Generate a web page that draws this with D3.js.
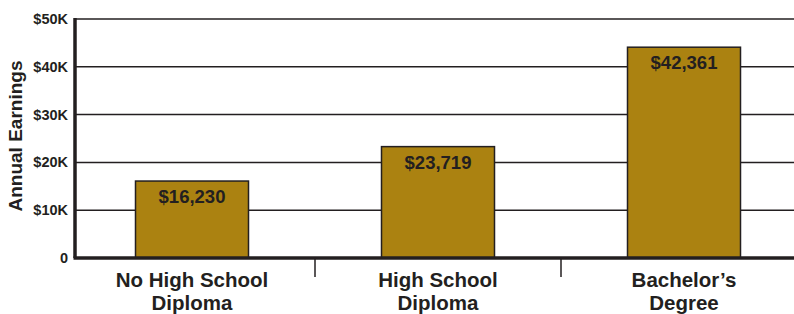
<!DOCTYPE html>
<html>
<head>
<meta charset="utf-8">
<script src="https://cdn.jsdelivr.net/npm/d3@7/dist/d3.min.js"></script>
<style>
  html, body { margin: 0; padding: 0; background: #fff; }
  svg { display: block; font-family: "Liberation Sans", Arial, sans-serif; }
</style>
</head>
<body>
<svg id="chart" width="794" height="314"></svg>
<script>
// categories (two lines each) + printed values + bar heights as drawn in the picture
const categories = ['No High School|Diploma', 'High School|Diploma', 'Bachelor’s|Degree'];
const valueLabels = ['$16,230', '$23,719', '$42,361'];
const barHeights = [16100, 23300, 44100];
const yTicks = [0, 10000, 20000, 30000, 40000, 50000];
const yTickLabels = ['0', '$10K', '$20K', '$30K', '$40K', '$50K'];

const W = 794, H = 314;
const INK = '#231f20', GOLD = '#ab8211';
const svg = d3.select('#chart');

const y = d3.scaleLinear().domain([0, 50000]).range([258, 19]);
const x = d3.scalePoint().domain(categories).range([192, 684]);
const barW = 113;
const axisX = 75;

// gridlines (behind bars)
svg.append('g').selectAll('line').data(yTicks.slice(1)).join('line')
  .attr('x1', axisX).attr('x2', W)
  .attr('y1', (d) => y(d)).attr('y2', (d) => y(d))
  .attr('stroke', INK).attr('stroke-width', 1.5);

// y tick labels
svg.append('g').selectAll('text').data(yTicks).join('text')
  .attr('x', 68).attr('y', (d) => y(d) + 5)
  .attr('text-anchor', 'end').attr('font-size', 14.5).attr('font-weight', 700).attr('fill', INK)
  .text((d, i) => yTickLabels[i]);

// axis title
svg.append('text')
  .attr('transform', `translate(22,136) rotate(-90)`)
  .attr('text-anchor', 'middle').attr('font-size', 19).attr('font-weight', 700).attr('fill', INK)
  .text('Annual Earnings');

// bars
const bars = svg.append('g').selectAll('g').data(categories).join('g');
bars.append('rect')
  .attr('x', (d) => x(d) - barW / 2).attr('width', barW)
  .attr('y', (d, i) => y(barHeights[i])).attr('height', (d, i) => y(0) - y(barHeights[i]))
  .attr('fill', GOLD).attr('stroke', INK).attr('stroke-width', 1.5);
bars.append('text')
  .attr('x', (d) => x(d)).attr('y', (d, i) => y(barHeights[i]) + 22)
  .attr('text-anchor', 'middle').attr('font-size', 18.5).attr('font-weight', 700).attr('fill', INK)
  .text((d, i) => valueLabels[i]);

// category labels
const catLabel = svg.append('g').selectAll('text').data(categories).join('text')
  .attr('x', (d) => x(d)).attr('text-anchor', 'middle')
  .attr('font-size', 20.5).attr('font-weight', 700).attr('fill', INK);
catLabel.selectAll('tspan').data((d) => d.split('|').map((t) => ({ t, c: d }))).join('tspan')
  .attr('x', (o) => x(o.c)).attr('y', (o, i) => 287 + i * 23)
  .text((o) => o.t);

// category separator ticks, midway between neighbours
const mids = d3.pairs(categories).map(([a, b]) => (x(a) + x(b)) / 2);
svg.append('g').selectAll('line').data(mids).join('line')
  .attr('x1', (d) => d).attr('x2', (d) => d).attr('y1', y(0)).attr('y2', 277)
  .attr('stroke', INK).attr('stroke-width', 1.5);

// axes
svg.append('line').attr('x1', axisX - 1.5).attr('x2', W).attr('y1', y(0)).attr('y2', y(0))
  .attr('stroke', INK).attr('stroke-width', 3.5);
svg.append('line').attr('x1', axisX).attr('x2', axisX).attr('y1', y(50000) - 1).attr('y2', y(0))
  .attr('stroke', INK).attr('stroke-width', 3.5);
</script>
</body>
</html>
